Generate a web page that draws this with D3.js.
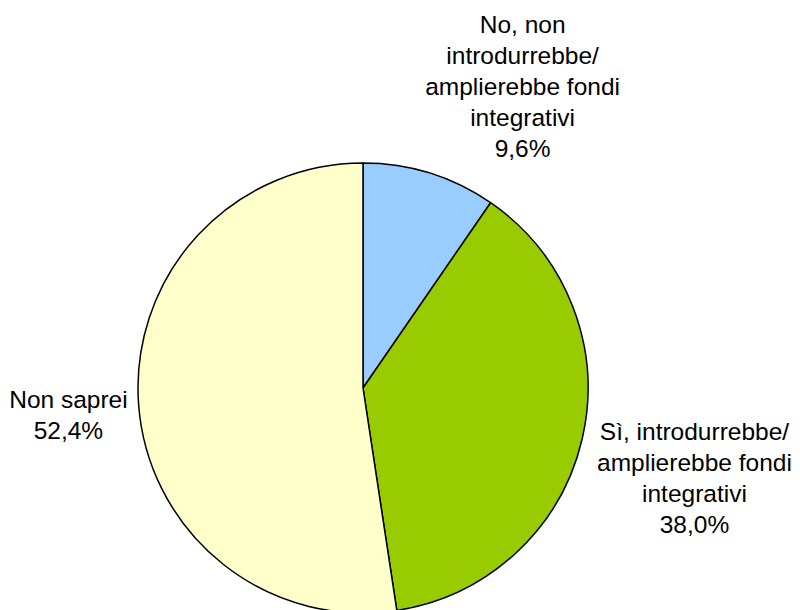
<!DOCTYPE html>
<html>
<head>
<meta charset="utf-8">
<script src="https://cdn.jsdelivr.net/npm/d3@7"></script>
<style>
  html, body { margin: 0; padding: 0; background: #fff; }
  svg { display: block; }
</style>
</head>
<body>
<svg id="chart" width="800" height="610"></svg>
<script>
// Survey answers, in drawing order (clockwise from 12 o'clock)
const categories = [
  "No, non introdurrebbe/ amplierebbe fondi integrativi",
  "Sì, introdurrebbe/ amplierebbe fondi integrativi",
  "Non saprei"
];
const values = [9.6, 38.0, 52.4];
// Label lines for each slice (text wrapped as drawn)
const labelLines = [
  ["No, non", "introdurrebbe/", "amplierebbe fondi", "integrativi"],
  ["Sì, introdurrebbe/", "amplierebbe fondi", "integrativi"],
  ["Non saprei"]
];
const colors = ["#99CCFF", "#99CC00", "#FFFFCC"];

const svg = d3.select("#chart");
const cx = 363, cy = 388, radius = 225;
const fontSize = 24.5, lineH = 31;

const pie = d3.pie().sort(null).value(d => d)
  .startAngle(0).endAngle(2 * Math.PI);
const arcs = pie(values);
const arc = d3.arc().innerRadius(0).outerRadius(radius);

const g = svg.append("g").attr("transform", `translate(${cx},${cy})`);

g.selectAll("path.slice")
  .data(arcs)
  .enter().append("path")
  .attr("class", "slice")
  .attr("d", arc)
  .attr("fill", (d, i) => colors[i])
  .attr("stroke", "#000")
  .attr("stroke-width", 1.5)
  .attr("stroke-linejoin", "round");

const fmt = v => d3.format(".1f")(v).replace(".", ",") + "%";

// Labels sit just outside the rim, pushed away along the slice's mid angle
const labelPad = 8;
arcs.forEach((d, i) => {
  const mid = (d.startAngle + d.endAngle) / 2;
  const sx = Math.sin(mid), cyDir = -Math.cos(mid);
  const ax = (radius + labelPad) * sx;
  const ay = (radius + labelPad) * cyDir;
  const lines = labelLines[i].concat([fmt(values[i])]);

  const t = g.append("text")
    .attr("font-family", "Arial, 'Liberation Sans', sans-serif")
    .attr("font-size", fontSize)
    .attr("fill", "#000")
    .attr("text-anchor", "middle");
  lines.forEach((ln, k) => {
    t.append("tspan").attr("x", 0).attr("y", k * lineH).text(ln);
  });

  const bb = t.node().getBBox();
  const w = bb.width, h = (lines.length - 1) * lineH + fontSize * 1.15;
  let bx, by;
  if (Math.abs(cyDir) > 0.7) {
    // above/below the pie: the box corner tucks in next to the rim
    bx = sx >= 0 ? ax + w / 2 - 7 : ax - w / 2 + 7;
    by = cyDir < 0 ? ay - h - 2 : ay + 2;
  } else {
    // beside the pie: the box edge faces the rim, sliding with the angle
    bx = sx >= 0 ? ax + w / 2 + 7 : ax - w / 2 - 3;
    by = ay - h / 2 + cyDir * h * 1.25 + 4.5;
  }
  t.attr("transform", `translate(${bx},${by + fontSize * 0.9})`);
});
</script>
</body>
</html>
